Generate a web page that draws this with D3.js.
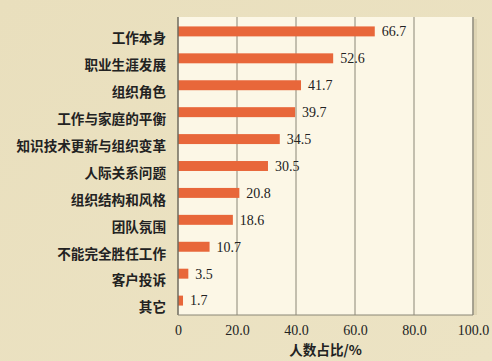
<!DOCTYPE html>
<html><head><meta charset="utf-8">
<script src="https://cdn.jsdelivr.net/npm/d3@7"></script>
<style>html,body{margin:0;padding:0;background:#ebe1bf;}svg{display:block;}</style>
</head><body>
<script>
const categories = ["工作本身","职业生涯发展","组织角色","工作与家庭的平衡","知识技术更新与组织变革","人际关系问题","组织结构和风格","团队氛围","不能完全胜任工作","客户投诉","其它"];
const values = [66.7,52.6,41.7,39.7,34.5,30.5,20.8,18.6,10.7,3.5,1.7];
const tickValues = [0,20,40,60,80,100];
const tickLabels = ["0","20.0","40.0","60.0","80.0","100.0"];
const axisTitle = "人数占比/%";

const W = 492, H = 361;
const m = {left:178, right:19, top:17, bottom:46};
const svg = d3.select("body").append("svg").attr("width",W).attr("height",H);
const defs = svg.append("defs");
const bg = defs.append("linearGradient").attr("id","bg").attr("x1",0).attr("y1",0).attr("x2",1).attr("y2",1);
bg.append("stop").attr("offset","0%").attr("stop-color","#e9dfbd");
bg.append("stop").attr("offset","100%").attr("stop-color","#ece3c4");
svg.append("rect").attr("width",W).attr("height",H).attr("fill","url(#bg)");

const x = d3.scaleLinear().domain([0,100]).range([m.left, W-m.right]);
const y = d3.scaleBand().domain(categories).range([m.top, H-m.bottom]).paddingInner(0.63).paddingOuter(0.35);

svg.append("rect").attr("x",x(0)).attr("y",m.top).attr("width",x(100)-x(0)).attr("height",H-m.bottom-m.top).attr("fill","#fcf7e6");
svg.append("rect").attr("x",x(100)+1).attr("y",m.top+2).attr("width",3).attr("height",H-m.bottom-m.top-2).attr("fill","#d9cfae").attr("opacity",0.7);

const g = svg.append("g");
g.selectAll("line.grid").data(tickValues.slice(1)).join("line")
  .attr("x1",d=>x(d)).attr("x2",d=>x(d)).attr("y1",m.top).attr("y2",H-m.bottom)
  .attr("stroke",d=>d===100?"#8d897a":"#8a8676").attr("stroke-width",d=>d===100?1.5:1);

svg.selectAll("rect.bar").data(values).join("rect").attr("class","bar")
  .attr("x",x(0)).attr("y",(d,i)=>y(categories[i]))
  .attr("width",d=>x(d)-x(0)).attr("height",y.bandwidth())
  .attr("fill","#e8673a");

svg.selectAll("text.val").data(values).join("text")
  .attr("x",d=>x(d)+7).attr("y",(d,i)=>y(categories[i])+y.bandwidth()/2)
  .attr("dy","0.35em").attr("font-family","'Liberation Serif','Times New Roman',serif")
  .attr("font-size",14).attr("fill","#222").text(d=>d.toFixed(1));

svg.append("line").attr("x1",x(0)).attr("x2",x(0)).attr("y1",m.top).attr("y2",H-m.bottom).attr("stroke","#6f6b5e").attr("stroke-width",1.5);
svg.append("line").attr("x1",x(0)).attr("x2",x(100)).attr("y1",H-m.bottom).attr("y2",H-m.bottom).attr("stroke","#8a8676").attr("stroke-width",1);

svg.selectAll("text.cat").data(categories).join("text")
  .attr("x",m.left-12).attr("y",d=>y(d)+y.bandwidth()/2+7)
  .attr("dy","0.35em").attr("text-anchor","end")
  .attr("font-family","'Noto Sans CJK SC',sans-serif").attr("font-weight",700)
  .attr("font-size",13.6).attr("fill","#222").text(d=>d);

const xAxis = d3.axisBottom(x).tickValues(tickValues).tickFormat((d,i)=>tickLabels[i]).tickSize(0).tickPadding(10);
const ax = svg.append("g").attr("transform",`translate(0,${H-m.bottom})`).call(xAxis);
ax.select(".domain").remove();
ax.selectAll("text").attr("font-family","'Liberation Serif','Times New Roman',serif").attr("font-size",14).attr("fill","#222");

svg.append("text").attr("x",(x(0)+x(100))/2).attr("y",350).attr("dy","0.35em").attr("text-anchor","middle")
  .attr("font-family","'Noto Sans CJK SC',sans-serif").attr("font-weight",700).attr("font-size",13.6).attr("fill","#222").text(axisTitle);
</script>
</body></html>
